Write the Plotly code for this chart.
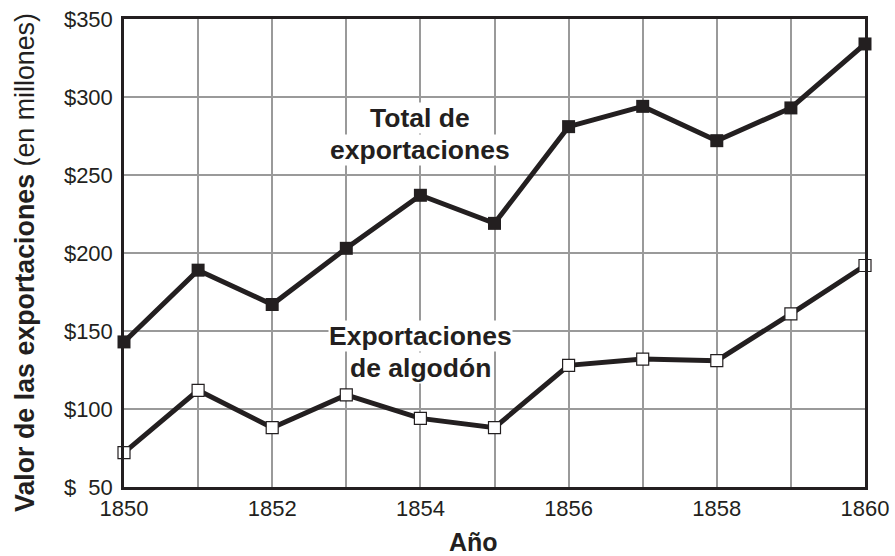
import plotly.graph_objects as go

years = [1850, 1851, 1852, 1853, 1854, 1855, 1856, 1857, 1858, 1859, 1860]
total_exports = [143, 189, 167, 203, 237, 219, 281, 294, 272, 293, 334]
cotton_exports = [72, 112, 88, 109, 94, 88, 128, 132, 131, 161, 192]
y_ticks = [50, 100, 150, 200, 250, 300, 350]
y_tick_labels = ["$\u200750", "$100", "$150", "$200", "$250", "$300", "$350"]
x_ticks = [1850, 1852, 1854, 1856, 1858, 1860]

ink = "#231f20"
font = "Liberation Sans, Arial, sans-serif"

fig = go.Figure()
fig.add_trace(go.Scatter(
    x=years, y=total_exports, mode="lines+markers", cliponaxis=False,
    line=dict(color=ink, width=5),
    marker=dict(symbol="square", size=13, color=ink, line=dict(color=ink, width=0)),
    showlegend=False))
fig.add_trace(go.Scatter(
    x=years, y=cotton_exports, mode="lines+markers", cliponaxis=False,
    line=dict(color=ink, width=5),
    marker=dict(symbol="square", size=12, color="white", line=dict(color=ink, width=1.2)),
    showlegend=False))

# two-line labels: upper line sits on, lower line hangs from, the same y
labels = [("Total de", "exportaciones", 276.4), ("Exportaciones", "de algodón", 136.8)]
for top_txt, bottom_txt, yv in labels:
    fig.add_annotation(x=1854.0, y=yv, yanchor="bottom", text="<b>" + top_txt + "</b>",
                       showarrow=False, font=dict(family=font, size=26.5, color=ink),
                       bgcolor="white", borderpad=0)
    fig.add_annotation(x=1854.0, y=yv, yanchor="top", text="<b>" + bottom_txt + "</b>",
                       showarrow=False, font=dict(family=font, size=26.5, color=ink),
                       bgcolor="white", borderpad=0)

# axis titles placed as annotations
fig.add_annotation(xref="paper", yref="paper", x=-0.1336, y=0.4786,
                   xanchor="center", yanchor="middle", textangle=-90, showarrow=False,
                   text="<b>Valor de las exportaciones</b> (en millones)",
                   font=dict(family=font, size=26.8, color=ink))
fig.add_annotation(xref="paper", yref="paper", x=0.471, y=-0.1175,
                   xanchor="center", yanchor="middle", showarrow=False,
                   text="<b>Año</b>", font=dict(family=font, size=25, color=ink))

fig.update_xaxes(range=[1850, 1860], tickvals=x_ticks, automargin=False,
                 showgrid=True, gridcolor="#9a9a9a", gridwidth=1.5,
                 showline=True, linecolor=ink, linewidth=2.5, mirror=True,
                 ticks="", tickfont=dict(family=font, size=22, color=ink),
                 zeroline=False)
fig.update_xaxes(minor=dict(tickvals=years, showgrid=True, gridcolor="#9a9a9a", gridwidth=1.5))
fig.update_yaxes(range=[50, 350], tickvals=y_ticks, ticktext=y_tick_labels, automargin=False,
                 showgrid=True, gridcolor="#9a9a9a", gridwidth=1.5,
                 showline=True, linecolor=ink, linewidth=2.5, mirror=True,
                 ticks="", ticklabelstandoff=4, tickfont=dict(family=font, size=22, color=ink),
                 zeroline=False)

fig.update_layout(width=895, height=556, margin=dict(l=124, r=30, t=19, b=69),
                  plot_bgcolor="white", paper_bgcolor="white")
fig.write_html("out.html", config={"displayModeBar": False},
               post_script="document.body.style.margin='0';")
